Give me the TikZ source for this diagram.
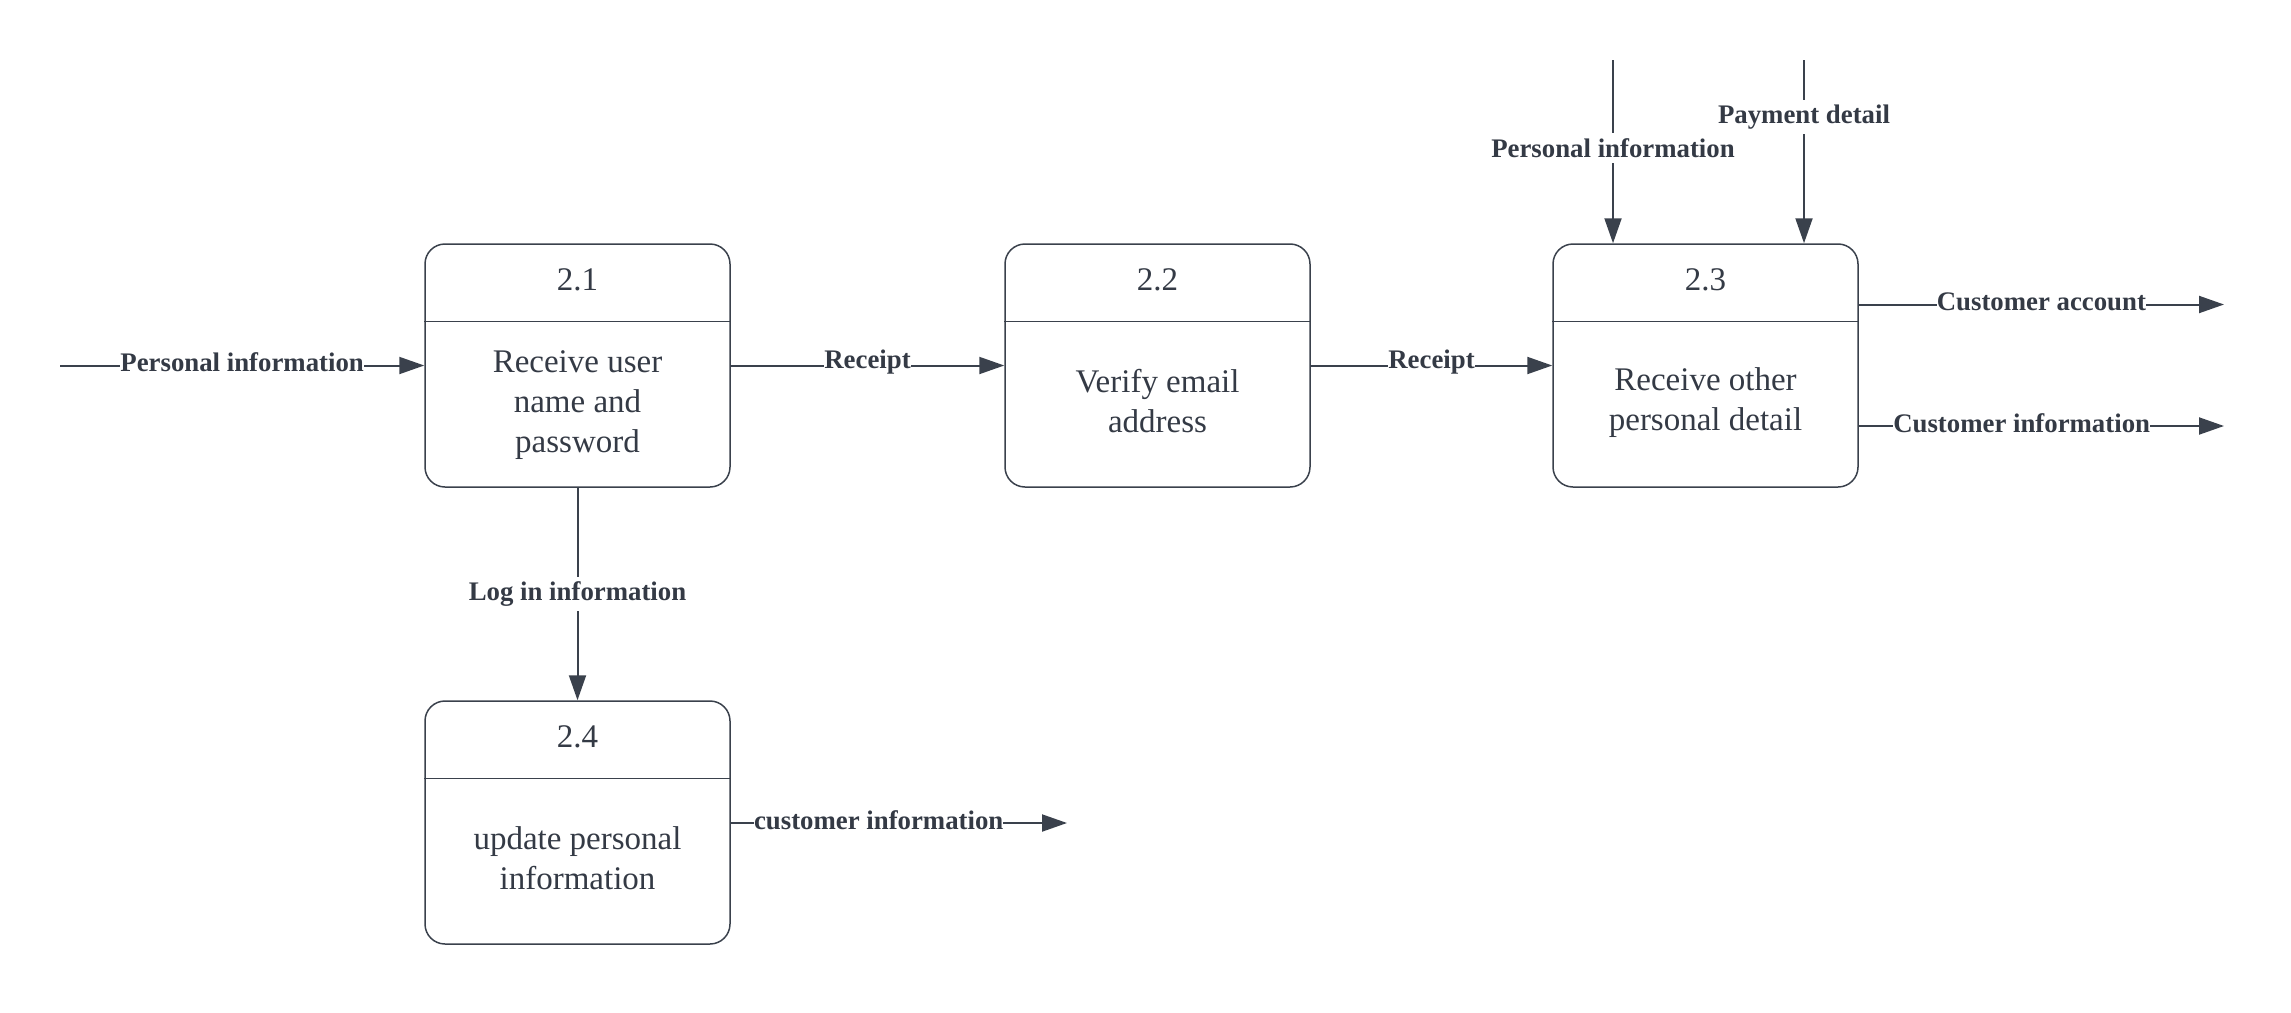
\documentclass[tikz,border=0pt]{standalone}
\usepackage{fontspec}
\setmainfont{Liberation Serif}
\usetikzlibrary{arrows.meta,calc}
\definecolor{ln}{HTML}{3A414C}
\definecolor{tx}{HTML}{343A45}
\begin{document}
\begin{tikzpicture}[x=0.5pt,y=-0.5pt,
 proc/.style={draw=ln, line width=0.75pt, rounded corners=10pt, minimum width=152.5pt, minimum height=121.5pt, inner sep=0pt},
 num/.style={font=\fontsize{16.5}{20}\selectfont, text=tx, anchor=base, inner sep=0pt},
 body/.style={font=\fontsize{16.5}{20}\selectfont, text=tx, align=center, inner sep=0pt},
 flow/.style={draw=ln, line width=1pt, -{Triangle[length=12.5pt,width=8.5pt]}},
 divider/.style={draw=ln, line width=0.6pt},
 lbl/.style={font=\bfseries\fontsize{13.4}{16}\selectfont, text=tx, fill=white, inner xsep=1pt, inner ysep=2.5pt},
 hlbl/.style={lbl, inner xsep=0pt, inner ysep=1pt, yshift=1.6pt}]
\useasboundingbox (0,0) rectangle (2291,1012);

% process boxes
\node[proc] (p1) at (577.5,365.5) {};
\node[proc] (p2) at (1157.5,365.5) {};
\node[proc] (p3) at (1705.5,365.5) {};
\node[proc] (p4) at (577.5,822.5) {};

% dividers
\foreach \b in {p1,p2,p3,p4}{
  \draw[divider] ([yshift=-39pt]\b.north west) -- ([yshift=-39pt]\b.north east);
}

% numbers
\node[num] (n1) at (577.5,290) {2.1};
\node[num] (n2) at (1157.5,290) {2.2};
\node[num] (n3) at (1705.5,290) {2.3};
\node[num] (n4) at (577.5,747) {2.4};

% body texts
\node[body] (b1) at (577.5,405) {Receive user\\name and\\password};
\node[body] (b2) at (1157.5,401) {Verify email\\address};
\node[body] (b3) at (1705.5,402.5) {Receive other\\personal detail};
\node[body] (b4) at (577.5,858) {update personal\\information};

% free ends
\coordinate (in1) at (60,365.5);
\coordinate (t1) at (1613,60);
\coordinate (t2) at (1804,60);
\coordinate (o1) at (2224,304.5);
\coordinate (o2) at (2224,426);
\coordinate (o3) at (1067,823);

% connectors
\draw[flow] (in1) -- (in1 -| p1.west) node[hlbl, midway] {Personal information};
\draw[flow] (p1.east) -- (p2.west) node[hlbl, midway] {Receipt};
\draw[flow] (p2.east) -- (p3.west) node[hlbl, midway] {Receipt};
\draw[flow] (t1) -- (t1 |- p3.north) node[lbl, pos=0.48] {Personal information};
\draw[flow] (t2) -- (t2 |- p3.north) node[lbl, pos=0.31] {Payment detail};
\draw[flow] (o1 -| p3.east) -- (o1) node[hlbl, midway] {Customer account};
\draw[flow] (o2 -| p3.east) -- (o2) node[hlbl, pos=0.446] {Customer information};
\draw[flow] (p1.south) -- (p4.north) node[lbl, pos=0.5] {Log in information};
\draw[flow] (o3 -| p4.east) -- (o3) node[hlbl, pos=0.44] {customer information};
\end{tikzpicture}
\end{document}
